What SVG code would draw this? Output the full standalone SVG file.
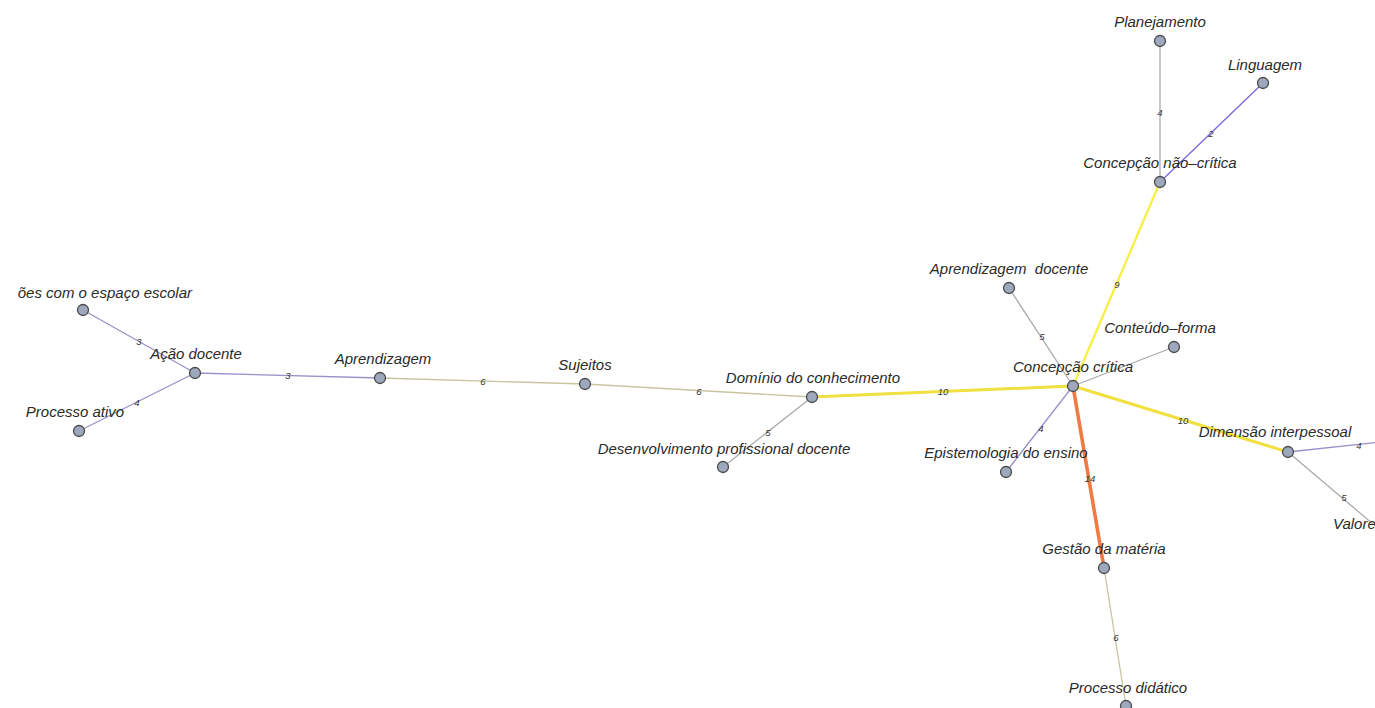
<svg xmlns="http://www.w3.org/2000/svg" width="1375" height="708" viewBox="0 0 1375 708">
  <style>
    .edge { fill: none; stroke-linecap: round; }
    .w-thin { stroke-width: 1.3; }
    .c-purple { stroke: #9890c8; }
    .c-blue { stroke: #7868e0; }
    .c-gray { stroke: #aaaaaa; }
    .c-olive { stroke: #c8c4a0; }
    .c-yellow { stroke: #f0e040; stroke-width: 3; }
    .c-lyellow { stroke: #f8f048; stroke-width: 2.4; }
    .c-orange { stroke: #f07a42; stroke-width: 3.6; }
    .elabel { font-family: "Liberation Sans", Arial, sans-serif; font-style: italic; font-size: 9.5px; fill: #333333; text-anchor: middle; dominant-baseline: central; }
    .node circle { fill: #9ea8bc; stroke: #4a4a4a; stroke-width: 1.3; }
    .node text { font-family: "Liberation Sans", Arial, sans-serif; font-style: italic; font-size: 15px; fill: #2a2a2a; text-anchor: middle; }
  </style>
  <rect width="1375" height="708" fill="#ffffff"/>

  <g id="connectors">
    <line class="edge w-thin c-purple" x1="83" y1="310" x2="195" y2="373"/>
    <line class="edge w-thin c-purple" x1="79" y1="431" x2="195" y2="373"/>
    <line class="edge w-thin c-purple" x1="195" y1="373" x2="380" y2="378"/>
    <line class="edge w-thin c-olive" x1="380" y1="378" x2="585" y2="384"/>
    <line class="edge w-thin c-olive" x1="585" y1="384" x2="812" y2="397"/>
    <line class="edge w-thin c-gray" x1="812" y1="397" x2="723" y2="467"/>
    <line class="edge c-yellow" x1="812" y1="397" x2="1073" y2="386"/>
    <line class="edge w-thin c-gray" x1="1073" y1="386" x2="1009" y2="288"/>
    <line class="edge c-lyellow" x1="1073" y1="386" x2="1160" y2="182"/>
    <line class="edge w-thin c-gray" x1="1073" y1="386" x2="1174" y2="347"/>
    <line class="edge c-yellow" x1="1073" y1="386" x2="1288" y2="452"/>
    <line class="edge w-thin c-purple" x1="1073" y1="386" x2="1006" y2="472"/>
    <line class="edge c-orange" x1="1073" y1="386" x2="1104" y2="568"/>
    <line class="edge w-thin c-olive" x1="1104" y1="568" x2="1126" y2="706"/>
    <line class="edge w-thin c-gray" x1="1160" y1="182" x2="1160" y2="41"/>
    <line class="edge w-thin c-blue" x1="1160" y1="182" x2="1263" y2="83"/>
    <line class="edge w-thin c-purple" x1="1288" y1="452" x2="1380" y2="442"/>
    <line class="edge w-thin c-gray" x1="1288" y1="452" x2="1380" y2="530"/>

    <text class="elabel" x="139" y="341">3</text>
    <text class="elabel" x="137" y="402">4</text>
    <text class="elabel" x="288" y="375">3</text>
    <text class="elabel" x="483" y="381">6</text>
    <text class="elabel" x="699" y="391">6</text>
    <text class="elabel" x="768" y="432">5</text>
    <text class="elabel" x="943" y="391">10</text>
    <text class="elabel" x="1042" y="336">5</text>
    <text class="elabel" x="1117" y="284">9</text>
    <text class="elabel" x="1183" y="420">10</text>
    <text class="elabel" x="1041" y="428">4</text>
    <text class="elabel" x="1090" y="478">14</text>
    <text class="elabel" x="1116" y="637">6</text>
    <text class="elabel" x="1160" y="112">4</text>
    <text class="elabel" x="1211" y="133">2</text>
    <text class="elabel" x="1359" y="445">4</text>
    <text class="elabel" x="1344" y="497">5</text>
  </g>

  <g id="n-espaco" class="node"><circle cx="83" cy="310" r="5.5"/><text x="192" y="298" style="text-anchor:end">ões com o espaço escolar</text></g>
  <g id="n-acao" class="node"><circle cx="195" cy="373" r="5.5"/><text x="196" y="359">Ação docente</text></g>
  <g id="n-processo-ativo" class="node"><circle cx="79" cy="431" r="5.5"/><text x="75" y="417">Processo ativo</text></g>
  <g id="n-aprendizagem" class="node"><circle cx="380" cy="378" r="5.5"/><text x="383" y="364">Aprendizagem</text></g>
  <g id="n-sujeitos" class="node"><circle cx="585" cy="384" r="5.5"/><text x="585" y="370">Sujeitos</text></g>
  <g id="n-dominio" class="node"><circle cx="812" cy="397" r="5.5"/><text x="813" y="383">Domínio do conhecimento</text></g>
  <g id="n-desenvolvimento" class="node"><circle cx="723" cy="467" r="5.5"/><text x="724" y="454">Desenvolvimento profissional docente</text></g>
  <g id="n-critica" class="node"><circle cx="1073" cy="386" r="5.5"/><text x="1073" y="372">Concepção crítica</text></g>
  <g id="n-aprendizagem-docente" class="node"><circle cx="1009" cy="288" r="5.5"/><text x="1009" y="274" xml:space="preserve">Aprendizagem  docente</text></g>
  <g id="n-conteudo" class="node"><circle cx="1174" cy="347" r="5.5"/><text x="1160" y="333">Conteúdo–forma</text></g>
  <g id="n-epistemologia" class="node"><circle cx="1006" cy="472" r="5.5"/><text x="1006" y="458">Epistemologia do ensino</text></g>
  <g id="n-gestao" class="node"><circle cx="1104" cy="568" r="5.5"/><text x="1104" y="554">Gestão da matéria</text></g>
  <g id="n-processo-didatico" class="node"><circle cx="1126" cy="706" r="5.5"/><text x="1128" y="693">Processo didático</text></g>
  <g id="n-dimensao" class="node"><circle cx="1288" cy="452" r="5.5"/><text x="1275" y="437">Dimensão interpessoal</text></g>
  <g id="n-valores" class="node"><text x="1333" y="529" style="text-anchor:start">Valores</text></g>
  <g id="n-nao-critica" class="node"><circle cx="1160" cy="182" r="5.5"/><text x="1160" y="168">Concepção não–crítica</text></g>
  <g id="n-planejamento" class="node"><circle cx="1160" cy="41" r="5.5"/><text x="1160" y="27">Planejamento</text></g>
  <g id="n-linguagem" class="node"><circle cx="1263" cy="83" r="5.5"/><text x="1265" y="70">Linguagem</text></g>
</svg>
